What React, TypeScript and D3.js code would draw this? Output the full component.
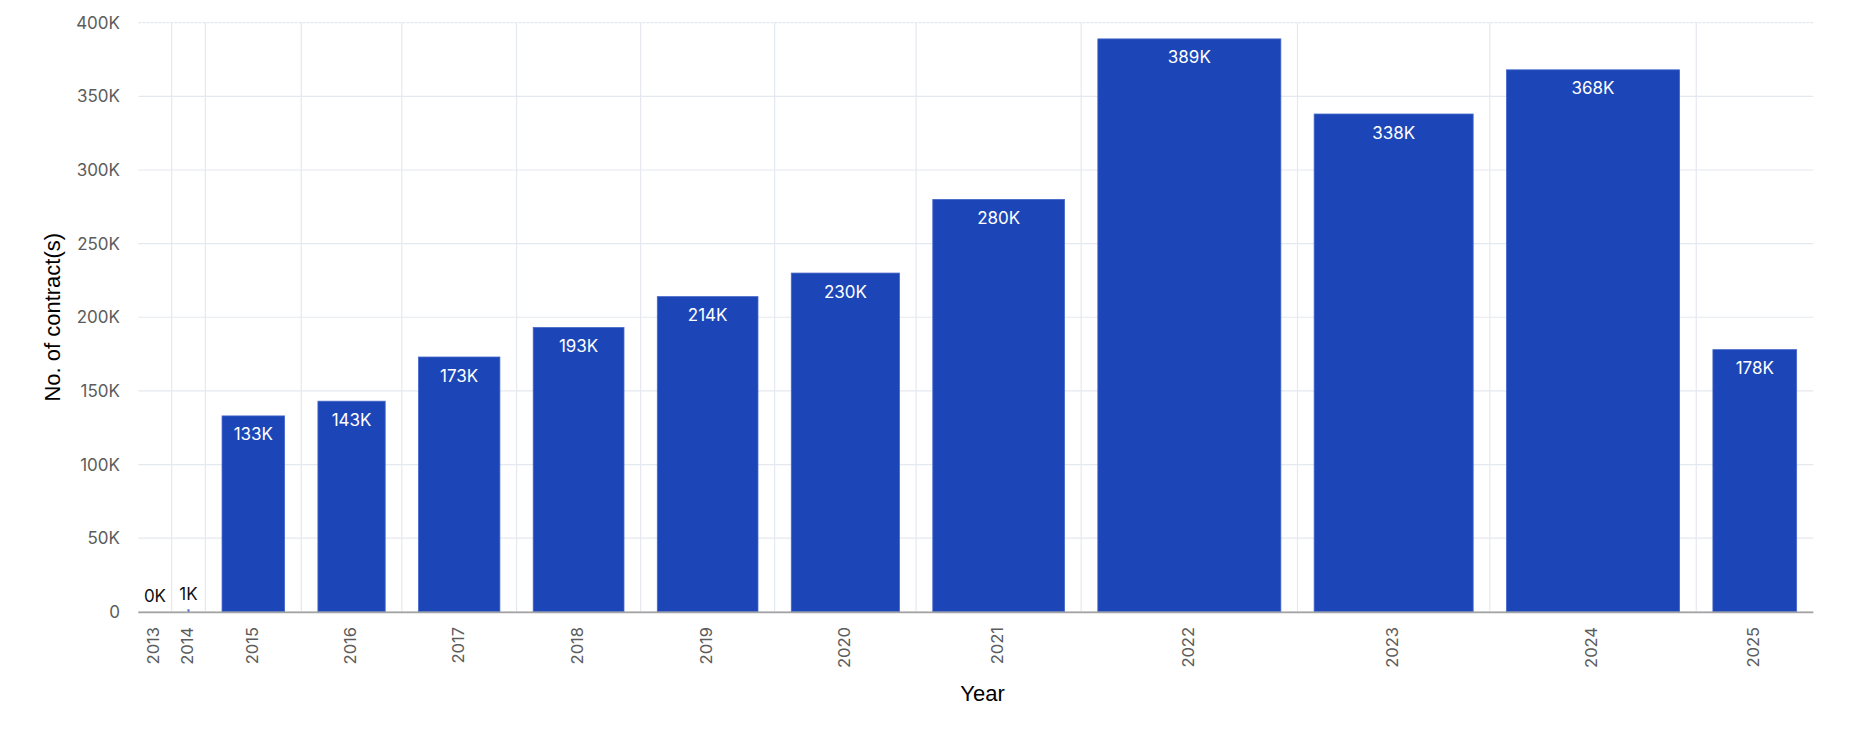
import React from "react";
import * as d3 from "d3";

// ---- data (values in thousands of contracts) ----
const years: string[] = ["2013", "2014", "2015", "2016", "2017", "2018", "2019", "2020", "2021", "2022", "2023", "2024", "2025"];
const contracts: number[] = [0, 1, 133, 143, 173, 193, 214, 230, 280, 389, 338, 368, 178];
const yTicks: number[] = [0, 50, 100, 150, 200, 250, 300, 350, 400];

const xTitle = "Year";
const yTitle = "No. of contract(s)";

// ---- layout ----
const W = 1860;
const H = 736;
const left = 138.3;
const right = 1813.3;
const top = 22.7;
const bottom = 611.8;
const gapUnits = 70.8; // spacing allotted to each band, in value units

const BAR = "#1c46b8";
const GRID = "#e4e8ef";
const TICK = "#5c5c5c";
const TICK_FONT = "Inter, 'Noto Sans', sans-serif";
const TITLE_FONT = "'Liberation Sans', Arial, Helvetica, sans-serif";

export default function App() {
  const weights = contracts.map((v) => v + gapUnits);
  const total = d3.sum(weights);
  const cum = [0, ...Array.from(d3.cumsum(weights))];
  const x = d3.scaleLinear().domain([0, total]).range([left, right]);
  const y = d3.scaleLinear().domain([0, 400]).range([bottom, top]);
  const fmt = (v: number) => (v === 0 ? "0" : `${v}K`);
  const lab = (v: number) => `${d3.format(".0f")(v)}K`;

  const bands = years.map((yr, i) => {
    const b0 = x(cum[i]);
    const b1 = x(cum[i + 1]);
    const x0 = x(cum[i] + gapUnits / 2);
    const x1 = x(cum[i] + gapUnits / 2 + contracts[i]);
    return { yr, v: contracts[i], b0, b1, x0, x1, c: (b0 + b1) / 2 };
  });

  return (
    <svg width={W} height={H} style={{ position: "absolute", left: 0, top: 0, background: "#fff" }}>
      {/* horizontal grid */}
      {yTicks.map((t, i) => (
        <line
          key={"h" + t}
          x1={left}
          x2={right}
          y1={y(t)}
          y2={y(t)}
          stroke={GRID}
          strokeWidth={1.2}
          strokeDasharray={i === yTicks.length - 1 ? "3,1" : undefined}
        />
      ))}
      {/* vertical grid at band boundaries */}
      {bands.slice(1).map((b) => (
        <line key={"v" + b.yr} x1={b.b0} x2={b.b0} y1={y(400)} y2={bottom} stroke={GRID} strokeWidth={1.2} />
      ))}
      {/* y tick labels */}
      {yTicks.map((t) => (
        <text
          key={"t" + t}
          x={120}
          y={y(t)}
          dy="0.36em"
          textAnchor="end"
          fontFamily={TICK_FONT}
          fontSize={17}
          fill={TICK}
        >
          {fmt(t)}
        </text>
      ))}
      {/* bars */}
      {bands.map((b) => (
        <rect
          key={"r" + b.yr}
          x={b.x0}
          y={y(b.v)}
          width={Math.max(0, b.x1 - b.x0)}
          height={bottom - y(b.v)}
          fill={BAR}
          stroke="#4466c8"
          strokeWidth={b.v > 5 ? 0.8 : 0}
        />
      ))}
      {/* tiny-bar marker for very small values */}
      {bands
        .filter((b) => b.v > 0 && b.v < 5)
        .map((b) => (
          <rect key={"m" + b.yr} x={b.c - 1} y={y(b.v) - 1} width={2} height={bottom - y(b.v) + 1} fill="#3f63d0" />
        ))}
      {/* value labels */}
      {bands.map((b) => {
        const inside = bottom - y(b.v) > 40;
        return (
          <text
            key={"l" + b.yr}
            x={b.c}
            y={inside ? y(b.v) + 24.5 : y(b.v) - 10}
            textAnchor="middle"
            fontFamily={TICK_FONT}
            fontSize={17}
            fill={inside ? "#ffffff" : "#111111"}
          >
            {lab(b.v)}
          </text>
        );
      })}
      {/* axis line */}
      <line x1={left} x2={right} y1={bottom + 0.5} y2={bottom + 0.5} stroke="#a3a3a3" strokeWidth={1.8} />
      {/* x tick labels */}
      {bands.map((b) => (
        <text
          key={"x" + b.yr}
          transform={`translate(${b.c - 1.5},${627}) rotate(-90)`}
          dy="0.36em"
          textAnchor="end"
          fontFamily={TICK_FONT}
          fontSize={16.5}
          fill={TICK}
        >
          {b.yr}
        </text>
      ))}
      {/* axis titles */}
      <text x={982.5} y={701} textAnchor="middle" fontFamily={TITLE_FONT} fontSize={22} fill="#000">
        {xTitle}
      </text>
      <text
        transform={`translate(52,${(top + bottom) / 2}) rotate(-90)`}
        dy="0.36em"
        textAnchor="middle"
        fontFamily={TITLE_FONT}
        fontSize={22}
        fill="#000"
      >
        {yTitle}
      </text>
    </svg>
  );
}
